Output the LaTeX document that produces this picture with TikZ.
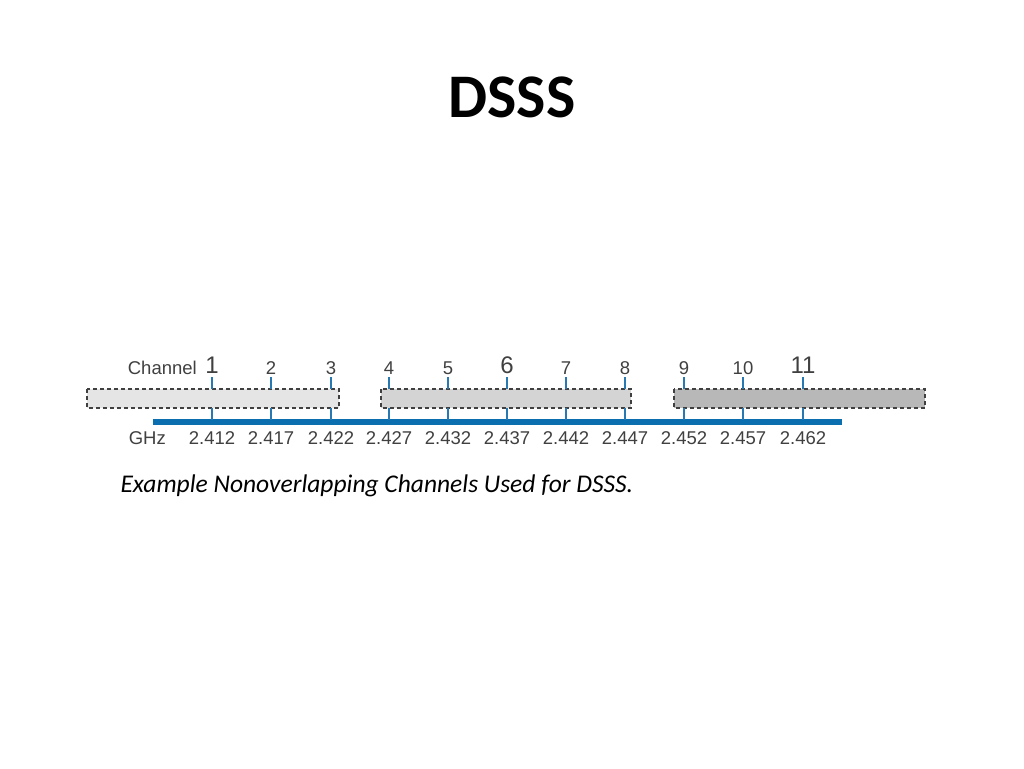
\documentclass[tikz,border=0pt]{standalone}
\usepackage{fontspec}
\setmainfont{Carlito}
\newfontfamily\arialf{Liberation Sans}
\definecolor{tickc}{RGB}{40,120,180}
\definecolor{barc}{RGB}{10,110,175}
\begin{document}
\begin{tikzpicture}[x=1pt,y=-1pt,
  band/.style={draw=black!75,dash pattern=on 4pt off 3pt,line width=1.3pt},
  tick/.style={draw=tickc,line width=1.6pt},
  lab/.style={font=\arialf\fontsize{18.5}{18.5}\selectfont,text=black!75,inner sep=0pt},
  big/.style={font=\arialf\fontsize{24}{24}\selectfont,text=black!75,inner sep=0pt}]
\useasboundingbox (0,0) rectangle (1024,768);
\node[font=\bfseries\fontsize{62}{62}\selectfont] (title) at (512,97) {DSSS};
\fill[black!10,band] (87,389) rectangle (339,408);
\fill[black!17,band] (381,389) rectangle (631,408);
\fill[black!28,band] (674,389) rectangle (925,408);
\draw[line width=6pt,color=barc] (153,422) -- (842,422);
\node[lab,anchor=east] (ch) at (197,368) {Channel};
\node[lab,anchor=east] (gh) at (166,438) {GHz};
\foreach \i/\x/\f in {1/212/2.412,2/271/2.417,3/331/2.422,4/389/2.427,5/448/2.432,6/507/2.437,7/566/2.442,8/625/2.447,9/684/2.452,10/743/2.457,11/803/2.462}{
  \draw[tick] (\x,377) -- (\x,389);
  \draw[tick] (\x,408) -- (\x,420);
  \node[lab] (f\i) at (\x,438) {\f};
}
\foreach \i/\x in {2/271,3/331,4/389,5/448,7/566,8/625,9/684,10/743}{\node[lab] (c\i) at (\x,368) {\i};}
\foreach \i/\x in {1/212,6/507,11/803}{\node[big] (c\i) at (\x,365) {\i};}
\node[anchor=west,font=\itshape\fontsize{25.5}{25.5}\selectfont] (cap) at (117,486) {Example Nonoverlapping Channels Used for DSSS.};
\end{tikzpicture}
\end{document}
